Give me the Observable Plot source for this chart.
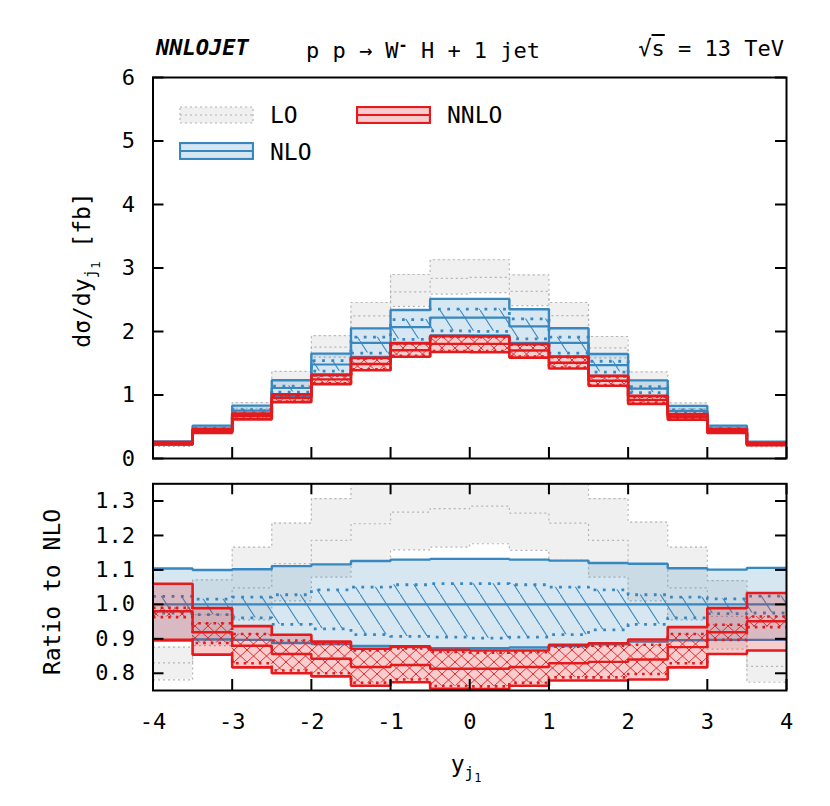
<!DOCTYPE html>
<html><head><meta charset="utf-8">
<script src="https://cdn.jsdelivr.net/npm/d3@7"></script>
<script src="https://cdn.jsdelivr.net/npm/@observablehq/plot@0.6"></script>
<style>
body{margin:0;background:#fff;}
#wrap{position:relative;width:830px;height:806px;font-family:"DejaVu Sans Mono",monospace;color:#000;overflow:hidden;}
.abs{position:absolute;white-space:nowrap;line-height:1;}
.plot{position:absolute;left:0;}
</style></head><body><div id="wrap"></div>
<script>
// ---- bins in y_j1 ----
const binLo = [-4,-3.5,-3,-2.5,-2,-1.5,-1,-0.5,0,0.5,1,1.5,2,2.5,3,3.5];
const binHi = [-3.5,-3,-2.5,-2,-1.5,-1,-0.5,0,0.5,1,1.5,2,2.5,3,3.5,4];

// NLO central value, dsigma/dy [fb]
const nloCentral = [0.245,0.47,0.755,1.11,1.48,1.82,2.07,2.22,2.22,2.08,1.82,1.47,1.10,0.75,0.47,0.24];

// ratios to NLO central
const nloC    = [1,1,1,1,1,1,1,1,1,1,1,1,1,1,1,1];
const nloHi   = [1.104,1.100,1.102,1.111,1.116,1.126,1.130,1.132,1.132,1.130,1.127,1.120,1.118,1.105,1.101,1.106];
const nloLo   = [0.895,0.898,0.897,0.888,0.885,0.879,0.876,0.873,0.873,0.875,0.879,0.884,0.892,0.896,0.897,0.897];
const nloInHi = [1.023,1.015,1.021,1.028,1.042,1.050,1.057,1.060,1.060,1.057,1.050,1.042,1.028,1.021,1.016,1.024];
const nloInLo = [0.975,0.970,0.961,0.942,0.929,0.912,0.907,0.905,0.902,0.905,0.912,0.926,0.942,0.961,0.973,0.975];

const loHi = [0.876,1.071,1.166,1.236,1.307,1.350,1.400,1.410,1.410,1.390,1.350,1.307,1.239,1.166,1.069,0.866];
const loC  = [0.830,0.970,1.048,1.118,1.186,1.234,1.268,1.278,1.285,1.265,1.236,1.186,1.118,1.048,0.965,0.820];
const loLo = [0.781,0.880,0.955,1.010,1.079,1.125,1.158,1.166,1.176,1.157,1.128,1.079,1.010,0.955,0.870,0.774];

const nnHi   = [1.060,0.989,0.937,0.912,0.892,0.871,0.878,0.868,0.866,0.866,0.883,0.887,0.898,0.934,0.989,1.033];
const nnC    = [0.980,0.919,0.880,0.856,0.842,0.818,0.824,0.813,0.813,0.818,0.829,0.833,0.840,0.876,0.919,0.951];
const nnLo   = [0.897,0.854,0.817,0.800,0.791,0.764,0.774,0.755,0.754,0.764,0.779,0.779,0.782,0.817,0.856,0.866];
const nnInHi = [0.990,0.945,0.914,0.895,0.885,0.866,0.872,0.862,0.860,0.861,0.877,0.880,0.883,0.914,0.941,0.965];
const nnInLo = [0.963,0.888,0.829,0.808,0.800,0.772,0.782,0.763,0.762,0.772,0.788,0.788,0.798,0.829,0.897,0.934];

const xTicks = [-4,-3,-2,-1,0,1,2,3,4];
const yTicksTop = [0,1,2,3,4,5,6];
const yTicksRatio = [0.8,0.9,1.0,1.1,1.2,1.3];

const BLUE = "#3787c0", RED = "#e41a1c", GREY = "#b4b4b4";

function stepRows(o, f) {
  const rows = [];
  binLo.forEach((x0, i) => {
    const r = {lo:o.lo[i]*f[i], c:o.c[i]*f[i], hi:o.hi[i]*f[i],
               inLo:o.inLo ? o.inLo[i]*f[i] : null, inHi:o.inHi ? o.inHi[i]*f[i] : null};
    rows.push({x:x0, ...r}, {x:binHi[i], ...r});
  });
  return rows;
}
const LO   = {lo:loLo, c:loC, hi:loHi};
const NLO  = {lo:nloLo, c:nloC, hi:nloHi, inLo:nloInLo, inHi:nloInHi};
const NNLO = {lo:nnLo, c:nnC, hi:nnHi, inLo:nnInLo, inHi:nnInHi};

function orderMarks(rows, s) {
  const m = [Plot.areaY(rows, {x:"x", y1:"lo", y2:"hi", fill:s.fill, fillOpacity:s.fo, clip:true})];
  if (s.pat) m.push(Plot.areaY(rows, {x:"x", y1:"inLo", y2:"inHi", fill:`url(#${s.pat})`, clip:true}));
  for (const k of ["lo","hi"]) m.push(Plot.line(rows, {x:"x", y:k, stroke:s.stroke, strokeWidth:s.sw, strokeDasharray:s.dash, strokeLinejoin:"miter", strokeLinecap:"butt", clip:true}));
  m.push(Plot.line(rows, {x:"x", y:"c", stroke:s.stroke, strokeWidth:s.cw, strokeDasharray:s.dash, strokeLinejoin:"miter", strokeLinecap:"butt", clip:true}));
  if (s.pat) for (const k of ["inLo","inHi"]) m.push(Plot.line(rows, {x:"x", y:k, stroke:s.stroke, strokeWidth:s.dw, strokeDasharray:s.dot, strokeLinecap:"butt", clip:true}));
  return m;
}
const sLO   = {fill:"#f0f0f0", fo:1, stroke:GREY, sw:1.2, cw:1.2, dash:"2,3"};
const sNLO  = (p) => ({fill:BLUE, fo:0.2, stroke:BLUE, sw:2.4, cw:2.2, dw:2.8, dot:"2.8,6.5", pat:p});
const sNNLO = (p) => ({fill:RED, fo:0.22, stroke:RED, sw:2.6, cw:2.4, dw:2.6, dot:"2.6,5", pat:p});

function addDefs(svg, suffix) {
  const defs = d3.create("svg:defs");
  const p1 = defs.append("pattern").attr("id","hatchNLO"+suffix).attr("patternUnits","userSpaceOnUse").attr("width",20).attr("height",31);
  p1.append("line").attr("x1",0).attr("y1",0).attr("x2",20).attr("y2",31).attr("stroke",BLUE).attr("stroke-width",1.1);
  const p2 = defs.append("pattern").attr("id","hatchNNLO"+suffix).attr("patternUnits","userSpaceOnUse").attr("width",13).attr("height",12);
  p2.append("line").attr("x1",0).attr("y1",0).attr("x2",13).attr("y2",12).attr("stroke",RED).attr("stroke-width",0.9);
  p2.append("line").attr("x1",13).attr("y1",0).attr("x2",0).attr("y2",12).attr("stroke",RED).attr("stroke-width",0.9);
  svg.insertBefore(defs.node(), svg.firstChild);
}

const ML = 152.5, MR = 44;
const innerW = 830 - ML - MR;
const styleBase = {fontFamily:"DejaVu Sans Mono", fontSize:"22px", background:"white", overflow:"visible"};

// ---- upper panel ----
const H1 = 470, MT1 = 77, MB1 = 12, ih1 = H1 - MT1 - MB1;
const up = Plot.plot({
  width:830, height:H1, marginLeft:ML, marginRight:MR, marginTop:MT1, marginBottom:MB1,
  style:styleBase,
  x:{domain:[-4,4], axis:null},
  y:{domain:[0,6], axis:null},
  marks:[
    ...orderMarks(stepRows(LO, nloCentral), sLO),
    ...orderMarks(stepRows(NLO, nloCentral), sNLO("hatchNLOu")),
    ...orderMarks(stepRows(NNLO, nloCentral), sNNLO("hatchNNLOu")),
    Plot.tickX(xTicks, {x:d=>d, insetTop:ih1-11, stroke:"black", strokeWidth:2}),
    Plot.tickY(yTicksTop, {y:d=>d, insetRight:innerW-11, stroke:"black", strokeWidth:2}),
    Plot.tickY(yTicksTop, {y:d=>d, insetLeft:innerW-11, stroke:"black", strokeWidth:2}),
    Plot.axisY(yTicksTop, {anchor:"left", tickSize:0, tickPadding:18, label:null, tickFormat:d=>String(d)}),
    Plot.frame({stroke:"black", strokeWidth:2})
  ]
});
addDefs(up, "u");

// ---- ratio panel ----
const H2 = 336, MT2 = 13.3, MB2 = 116, ih2 = H2 - MT2 - MB2;
const lo = Plot.plot({
  width:830, height:H2, marginLeft:ML, marginRight:MR, marginTop:MT2, marginBottom:MB2,
  style:styleBase,
  x:{domain:[-4,4], axis:null},
  y:{domain:[0.75,1.35], axis:null},
  marks:[
    ...orderMarks(stepRows(LO, nloC), sLO),
    ...orderMarks(stepRows(NLO, nloC), sNLO("hatchNLOl")),
    ...orderMarks(stepRows(NNLO, nloC), sNNLO("hatchNNLOl")),
    Plot.tickX(xTicks, {x:d=>d, insetTop:ih2-11, stroke:"black", strokeWidth:2}),
    Plot.tickX(xTicks, {x:d=>d, insetBottom:ih2-11, stroke:"black", strokeWidth:2}),
    Plot.tickY(yTicksRatio, {y:d=>d, insetRight:innerW-11, stroke:"black", strokeWidth:2}),
    Plot.tickY(yTicksRatio, {y:d=>d, insetLeft:innerW-11, stroke:"black", strokeWidth:2}),
    Plot.axisY(yTicksRatio, {anchor:"left", tickSize:0, tickPadding:18, label:null, tickFormat:d3.format(".1f")}),
    Plot.axisX(xTicks, {anchor:"bottom", tickSize:0, tickPadding:23, label:null, tickFormat:d=>String(d)}),
    Plot.frame({stroke:"black", strokeWidth:2})
  ]
});
addDefs(lo, "l");

const wrap = document.getElementById("wrap");
up.classList.add("plot"); up.style.top = "0px";
lo.classList.add("plot"); lo.style.top = "470px";
wrap.appendChild(up); wrap.appendChild(lo);

function addText(html, css) {
  const d = document.createElement("div");
  d.className = "abs"; d.innerHTML = html; Object.assign(d.style, css);
  wrap.appendChild(d); return d;
}
// header
addText("NNLOJET", {left:"156px", top:"37px", fontSize:"22px", fontWeight:"bold", fontStyle:"italic"});
addText("p p &rarr; W<sup style='font-size:15px;font-weight:bold'>-</sup> H + 1 jet", {left:"423px", top:"38px", fontSize:"22px", transform:"translateX(-50%)"});
addText("&radic;<span style='text-decoration:overline'>s</span> = 13 TeV", {right:"46px", top:"38px", fontSize:"22px"});
// axis labels
addText("d&sigma;/dy<sub style='font-size:16px'>j<sub style='font-size:12px'>1</sub></sub> [fb]", {left:"86px", top:"270px", fontSize:"23px", transform:"translate(-50%,-50%) rotate(-90deg)"});
addText("Ratio to NLO", {left:"52px", top:"592px", fontSize:"23px", transform:"translate(-50%,-50%) rotate(-90deg)"});
addText("y<sub style='font-size:16px'>j<sub style='font-size:12px'>1</sub></sub>", {left:"466px", top:"768px", fontSize:"23px", transform:"translate(-50%,-50%)"});

// legend
function swatch(fill, fo, stroke, dash, sw) {
  return `<svg width="75" height="18" style="display:block"><rect x="1" y="1" width="73" height="16" fill="${fill}" fill-opacity="${fo}" stroke="${stroke}" stroke-width="${sw}" ${dash?`stroke-dasharray="${dash}"`:""}/><line x1="1" x2="74" y1="9" y2="9" stroke="${stroke}" stroke-width="${sw}" ${dash?`stroke-dasharray="${dash}"`:""}/></svg>`;
}
addText(swatch("#f0f0f0",1,GREY,"2,3",1.2), {left:"179px", top:"106px"});
addText("LO", {left:"270px", top:"104px", fontSize:"23px"});
addText(swatch(RED,0.22,RED,null,2.2), {left:"356px", top:"106px"});
addText("NNLO", {left:"447px", top:"104px", fontSize:"23px"});
addText(swatch(BLUE,0.2,BLUE,null,2.2), {left:"179px", top:"142px"});
addText("NLO", {left:"270px", top:"141px", fontSize:"23px"});
</script></body></html>
